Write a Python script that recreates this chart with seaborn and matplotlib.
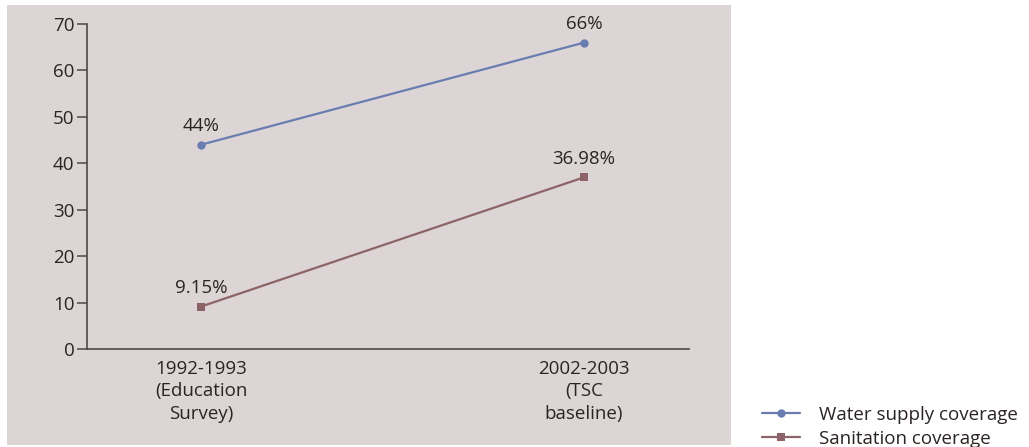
import matplotlib
matplotlib.use("Agg")
import matplotlib.pyplot as plt
from matplotlib.patches import Rectangle
import seaborn as sns
import pandas as pd

# Coverage data
periods = ["1992-1993\n(Education\nSurvey)", "2002-2003\n(TSC\nbaseline)"]
series_names = ["Water supply coverage", "Sanitation coverage"]
water_supply = [44, 66]
sanitation = [9.15, 36.98]
value_labels = {"Water supply coverage": ["44%", "66%"],
                "Sanitation coverage": ["9.15%", "36.98%"]}
y_ticks = [0, 10, 20, 30, 40, 50, 60, 70]

colors = {"Water supply coverage": "#6a7db0", "Sanitation coverage": "#8c6468"}
markers = {"Water supply coverage": "o", "Sanitation coverage": "s"}

df = pd.DataFrame({
    "pos": list(range(len(periods))) * 2,
    "value": water_supply + sanitation,
    "series": [series_names[0]] * len(periods) + [series_names[1]] * len(periods),
})

sns.set_style("white")
plt.rcParams["font.family"] = ["Open Sans", "DejaVu Sans"]
text_color = "#2a2424"
axis_color = "#4f4646"
fs = 13.5

fig = plt.figure(figsize=(10.29, 4.47), dpi=100)
fig.patch.set_facecolor("white")
panel = Rectangle((7 / 1029, 2 / 447), (731 - 7) / 1029, (445 - 5) / 447,
                  transform=fig.transFigure, facecolor="#ddd5d5", edgecolor="none",
                  zorder=-10)
fig.patches.append(panel)

ax = fig.add_axes([87 / 1029, 1 - 349 / 447, (689 - 87) / 1029, (349 - 24) / 447])
ax.set_facecolor("none")
ax.set_zorder(5)

sns.lineplot(data=df, x="pos", y="value", hue="series", style="series",
             palette=colors, markers=markers, dashes=False, markersize=6,
             markeredgewidth=0, linewidth=1.6, ax=ax, legend=False)

for name in series_names:
    sub = df[df["series"] == name]
    for (x, y), lab in zip(sub[["pos", "value"]].values, value_labels[name]):
        ax.annotate(lab, (x, y), xytext=(0, 7), textcoords="offset points",
                    ha="center", va="bottom", fontsize=fs, color=text_color)

ax.set_xlim(-0.298, 1.274)
ax.set_ylim(0, 70)
ax.set_yticks(y_ticks)
ax.set_xticks(range(len(periods)))
ax.set_xticklabels(periods, fontsize=fs, color=text_color, linespacing=1.3)
ax.tick_params(axis="y", length=7, width=1.1, color=axis_color, labelsize=fs,
               labelcolor=text_color, pad=2, direction="out", left=True)
ax.tick_params(axis="x", length=0, pad=8)
ax.set_xlabel("")
ax.set_ylabel("")
for side in ["top", "right"]:
    ax.spines[side].set_visible(False)
for side in ["left", "bottom"]:
    ax.spines[side].set_color(axis_color)
    ax.spines[side].set_linewidth(1.2)

handles = [plt.Line2D([], [], color=colors[n], marker=markers[n], markersize=6,
                      markeredgewidth=0, linewidth=1.6) for n in series_names]
fig.legend(handles, series_names, loc="upper left",
           bbox_to_anchor=(762 / 1029, 1 - 406 / 447), frameon=False, fontsize=fs,
           handlelength=2.0, handletextpad=1.05, labelspacing=0.3,
           labelcolor=text_color, borderaxespad=0, borderpad=0)

fig.savefig("out.png", dpi=100, facecolor="white")
